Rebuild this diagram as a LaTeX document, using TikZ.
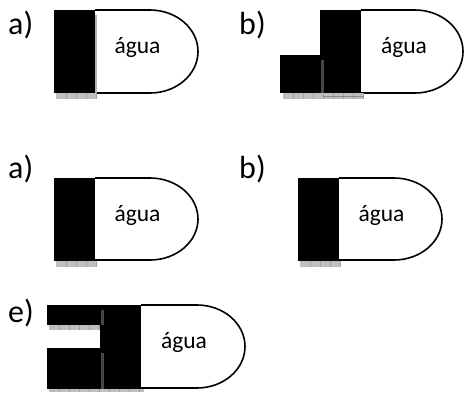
\documentclass[tikz,border=0pt]{standalone}
\usepackage{fontspec}
\setmainfont{Carlito}
\tikzset{
  x=1pt,y=-1pt,
  wall/.style={fill=black,draw=none},
  water/.style={draw=black,fill=white,line width=1.6pt},
  strip/.style={fill=black!25,draw=none},
  stripline/.style={draw=black!38,line width=0.4pt},
  seam/.style={fill=black!72,draw=none},
  lightseam/.style={fill=black!30,draw=none},
  watertext/.style={font=\fontsize{23.5}{25}\selectfont,inner sep=0pt,anchor=base},
  letter/.style={font=\fontsize{32}{34}\selectfont,inner sep=0pt,anchor=base west},
}
% water body: left x, top y, bottom y, right x
\newcommand{\waterbody}[4]{%
  \pgfmathsetmacro{\ry}{(#3-#2)/2}%
  \path[water] (#1,#2) -- (#4-48,#2) arc[start angle=90,end angle=-90,x radius=48pt,y radius=\ry pt] -- (#1,#3);%
}
% grey strip with fine cell lines: left x, right x, top y, bottom y
\newcommand{\greystrip}[4]{%
  \fill[strip] (#1,#3) rectangle (#2,#4);%
  \pgfmathsetmacro{\stepx}{#1+10}\pgfmathsetmacro{\nextx}{#1+20}%
  \foreach \sx in {\stepx,\nextx,...,#2}{\draw[stripline] (\sx,#3) -- (\sx,#4);}%
}
\begin{document}
\begin{tikzpicture}
\useasboundingbox (0,0) rectangle (464,392);
% a) top
\waterbody{95}{10}{93}{198}
\greystrip{56}{97}{93}{99}
\fill[lightseam] (95,15) rectangle (97,93);
\fill[wall] (54,10) rectangle (95,93);
\node[letter] (la1) at (8,34) {a)};
\node[watertext] (w1) at (137.5,53) {água};
% b) top
\waterbody{361}{10}{93}{463}
\greystrip{283}{364}{93}{99}
\draw[black!45,line width=0.4pt] (323,96) -- (364,96);
\fill[wall] (320,10) rectangle (361,93);
\fill[wall] (280,55) rectangle (320,93);
\fill[seam] (321,60) rectangle (324,93);
\node[letter] (lb1) at (239,34) {b)};
\node[watertext] (w2) at (404,53) {água};
% a) middle
\waterbody{95}{178}{260}{198}
\greystrip{56}{97}{261}{267}
\fill[wall] (54,178) rectangle (95,261);
\node[letter] (la2) at (8,178) {a)};
\node[watertext] (w3) at (137.5,221) {água};
% b) middle
\waterbody{339}{178}{260}{442}
\greystrip{300}{341}{261}{267}
\fill[wall] (298,178) rectangle (339,261);
\node[letter] (lb2) at (239,178) {b)};
\node[watertext] (w4) at (381.5,221) {água};
% e)
\waterbody{141}{305}{388}{245}
\greystrip{49}{101}{325}{330}
\greystrip{49}{144}{389}{392}
\fill[wall] (47,305) rectangle (101,325);
\fill[wall] (47,348) rectangle (101,389);
\fill[wall] (100,305) rectangle (141,389);
\fill[seam] (101,310) rectangle (104,325);
\fill[seam] (101,353) rectangle (104,389);
\node[letter] (le) at (8,322) {e)};
\node[watertext] (w5) at (184,348) {água};
\end{tikzpicture}
\end{document}
